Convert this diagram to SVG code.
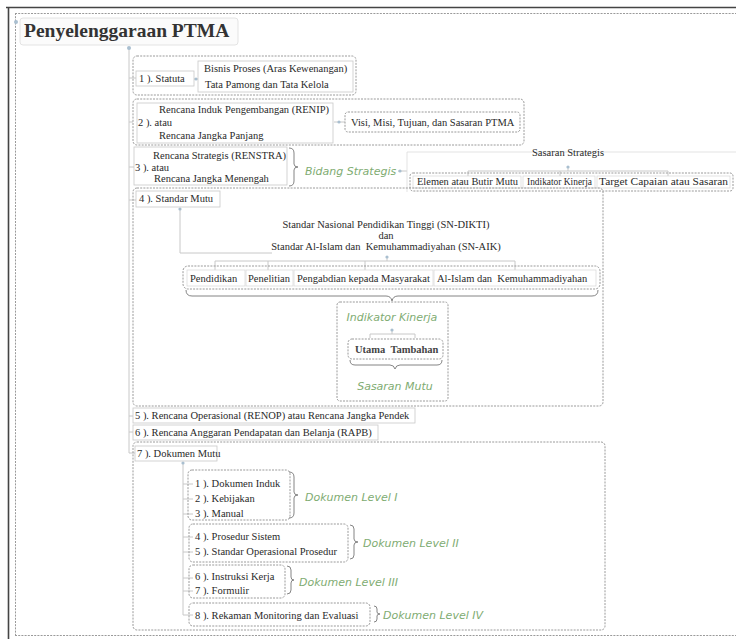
<svg xmlns="http://www.w3.org/2000/svg" width="736" height="639" viewBox="0 0 736 639">
<style>
.t{font-family:"Liberation Serif","DejaVu Serif",serif;font-size:10.5px;fill:#2a2a2a}
.g{font-family:"DejaVu Sans","Liberation Sans",sans-serif;font-style:italic;font-size:11px;fill:#80ac72}
.dash{fill:none;stroke:#9a9a9a;stroke-width:1;stroke-dasharray:2 1.2}
.box{fill:#fff;stroke:#c9c9c9;stroke-width:0.8}
.cell{fill:#fff;stroke:#d6d6d6;stroke-width:0.7}
.ln{fill:none;stroke:#c8c8c8;stroke-width:1}
.br{fill:none;stroke:#777;stroke-width:0.9}
.dot{fill:#a9bfd0}
</style>
<rect width="736" height="639" fill="#fff"/>
<g id="frame">
<path d="M6 7.5H736M8.5 7V639" stroke="#444" stroke-width="1.6" fill="none"/>
<path d="M15 13.5H736M15.5 13V635M15 635.5H736" class="dash"/>
</g>
<g id="connectors">
<path class="ln" d="M129 48V453M129 78H136M129 122H133M129 167H134M129 200H136M129 416H133M129 432H133M129 453H135"/>
<path class="ln" d="M194 79H198M334 122H345M398 171H407"/>
<path class="ln" d="M468 176V171H668V176M568 167V171M560 171V176"/>
<path class="ln" d="M180 208V253H272"/>
<path class="ln" d="M215 270V261H515V270M268 261V270M365 261V270M387 257V261"/>
<path class="ln" d="M370 338V334H415V338M392 330V334"/>
<path class="ln" d="M183 462V615M183 484H193M183 499H193M183 514H193M183 537H193M183 552H193M183 578H193M183 591H193M183 615H193"/>
<circle class="dot" cx="129" cy="48" r="2"/>
<circle class="dot" cx="16" cy="22" r="2"/>
<circle class="dot" cx="196" cy="79" r="1.6"/>
<circle class="dot" cx="339" cy="122" r="1.6"/>
<circle class="dot" cx="400" cy="171" r="1.6"/>
<circle class="dot" cx="568" cy="167" r="1.6"/>
<circle class="dot" cx="180" cy="209" r="1.6"/>
<circle class="dot" cx="387" cy="257" r="1.6"/>
<circle class="dot" cx="392" cy="330" r="1.6"/>
<circle class="dot" cx="183" cy="463" r="1.6"/>
</g>
<g id="title">
<rect x="20" y="18" width="218" height="27" rx="3" fill="#fbfbfb" stroke="#ddd" stroke-width="0.8"/>
<text x="24" y="37" style="font-family:'Liberation Serif',serif;font-weight:bold;font-size:19.5px;fill:#333">Penyelenggaraan PTMA</text>
</g>
<g id="n1">
<rect class="dash" x="133" y="56" width="223" height="39" rx="4"/>
<rect class="box" x="136" y="71" width="58" height="15"/>
<text class="t" x="139" y="82">1 ). Statuta</text>
<rect class="box" x="198" y="61" width="155" height="31"/>
<text class="t" x="204" y="72">Bisnis Proses (Aras Kewenangan)</text>
<text class="t" x="205" y="88">Tata Pamong dan Tata Kelola</text>
</g>
<g id="n2">
<rect class="dash" x="133" y="99" width="391" height="46" rx="4"/>
<rect class="box" x="137" y="103" width="196" height="40"/>
<text class="t" x="159" y="113">Rencana Induk Pengembangan (RENIP)</text>
<text class="t" x="138" y="126">2 ). atau</text>
<text class="t" x="159" y="139">Rencana Jangka Panjang</text>
<rect class="dash" x="345" y="112" width="175" height="20" rx="3"/>
<text class="t" x="351" y="126">Visi, Misi, Tujuan, dan Sasaran PTMA</text>
</g>
<g id="n3">
<rect class="box" x="134" y="147" width="153" height="38"/>
<text class="t" x="153" y="159">Rencana Strategis (RENSTRA)</text>
<text class="t" x="135" y="171">3 ). atau</text>
<text class="t" x="154" y="182">Rencana Jangka Menengah</text>
<path class="br" d="M289 148q5 0 5 5v11q0 3 4 3q-4 0-4 3v11q0 5-5 5"/>
<text class="g" x="305" y="175">Bidang Strategis</text>
<path fill="none" stroke="#dcdcdc" stroke-width="0.8" d="M407 192V152H736"/>
<text class="t" x="532" y="156">Sasaran Strategis</text>
<rect class="dash" x="410" y="173" width="323" height="18" rx="3"/>
<rect class="cell" x="413" y="176" width="108" height="12"/>
<rect class="cell" x="523" y="176" width="72" height="12"/>
<rect class="cell" x="597" y="176" width="133" height="12"/>
<text class="t" x="417" y="185" textLength="101" lengthAdjust="spacingAndGlyphs">Elemen atau Butir Mutu</text>
<text class="t" x="527" y="185" textLength="65" lengthAdjust="spacingAndGlyphs">Indikator Kinerja</text>
<text class="t" x="599" y="185" textLength="129" lengthAdjust="spacingAndGlyphs">Target Capaian atau Sasaran</text>
</g>
<g id="n4">
<rect class="dash" x="133" y="188" width="470" height="218" rx="4"/>
<rect class="box" x="136" y="191" width="84" height="16"/>
<text class="t" x="139" y="202">4 ). Standar Mutu</text>
<text class="t" x="386" y="228" text-anchor="middle">Standar Nasional Pendidikan Tinggi (SN-DIKTI)</text>
<text class="t" x="386" y="239" text-anchor="middle">dan</text>
<text class="t" x="386" y="250" text-anchor="middle">Standar Al-Islam dan&#160; Kemuhammadiyahan (SN-AIK)</text>
<rect class="dash" x="183" y="266" width="417" height="23" rx="5"/>
<rect class="cell" x="187" y="270" width="58" height="16"/>
<rect class="cell" x="246" y="270" width="47" height="16"/>
<rect class="cell" x="294" y="270" width="139" height="16"/>
<rect class="cell" x="434" y="270" width="162" height="16"/>
<text class="t" x="190" y="282">Pendidikan</text>
<text class="t" x="248" y="282">Penelitian</text>
<text class="t" x="297" y="282">Pengabdian kepada Masyarakat</text>
<text class="t" x="437" y="282">Al-Islam dan&#160; Kemuhammadiyahan</text>
<path class="br" d="M186 290q0 6 6 6H386q5 0 6 5q1-5 6-5H592q6 0 6-6"/>
<rect class="dash" x="337" y="302" width="111" height="99" rx="3"/>
<text class="g" x="392" y="321" text-anchor="middle">Indikator Kinerja</text>
<rect class="dash" x="348" y="339" width="95" height="20" rx="4"/>
<text class="t" x="355" y="353" style="font-weight:bold;fill:#444">Utama&#160; Tambahan</text>
<path class="br" d="M350 360q0 5 5 5H390q4 0 5 4q1-4 5-4H437q5 0 5-5"/>
<text class="g" x="395" y="390" text-anchor="middle">Sasaran Mutu</text>
</g>
<g id="n5">
<rect class="box" x="133" y="408" width="282" height="15"/>
<text class="t" x="135" y="419">5 ). Rencana Operasional (RENOP) atau Rencana Jangka Pendek</text>
</g>
<g id="n6">
<rect class="box" x="133" y="425" width="245" height="15"/>
<text class="t" x="135" y="436">6 ). Rencana Anggaran Pendapatan dan Belanja (RAPB)</text>
</g>
<g id="n7">
<rect class="dash" x="133" y="442" width="472" height="188" rx="4"/>
<rect class="box" x="135" y="446" width="82" height="15"/>
<text class="t" x="137" y="457">7 ). Dokumen Mutu</text>
</g>
<g id="lv1">
<rect class="dash" x="188" y="470" width="102" height="50" rx="4"/>
<text class="t" x="195" y="487">1 ). Dokumen Induk</text>
<text class="t" x="195" y="502">2 ). Kebijakan</text>
<text class="t" x="195" y="517">3 ). Manual</text>
<path class="br" d="M289 472q5 0 5 5v15q0 3 4 3q-4 0-4 3v15q0 5-5 5"/>
<text class="g" x="305" y="501">Dokumen Level I</text>
</g>
<g id="lv2">
<rect class="dash" x="189" y="524" width="159" height="38" rx="4"/>
<text class="t" x="195" y="540">4 ). Prosedur Sistem</text>
<text class="t" x="195" y="555">5 ). Standar Operasional Prosedur</text>
<path class="br" d="M350 525q4 0 4 4v10q0 3 4 3q-4 0-4 3v10q0 4-4 4"/>
<text class="g" x="363" y="547">Dokumen Level II</text>
</g>
<g id="lv3">
<rect class="dash" x="189" y="565" width="96" height="33" rx="4"/>
<text class="t" x="195" y="580">6 ). Instruksi Kerja</text>
<text class="t" x="195" y="594">7 ). Formulir</text>
<path class="br" d="M287 566q4 0 4 4v7q0 3 3 3q-3 0-3 3v7q0 4-4 4"/>
<text class="g" x="299" y="586">Dokumen Level III</text>
</g>
<g id="lv4">
<rect class="dash" x="189" y="603" width="181" height="23" rx="4"/>
<text class="t" x="195" y="619">8 ). Rekaman Monitoring dan Evaluasi</text>
<path class="br" d="M374 606q3 0 3 3v3q0 2 3 2q-3 0-3 2v3q0 3-3 3"/>
<text class="g" x="383" y="619">Dokumen Level IV</text>
</g>
</svg>
